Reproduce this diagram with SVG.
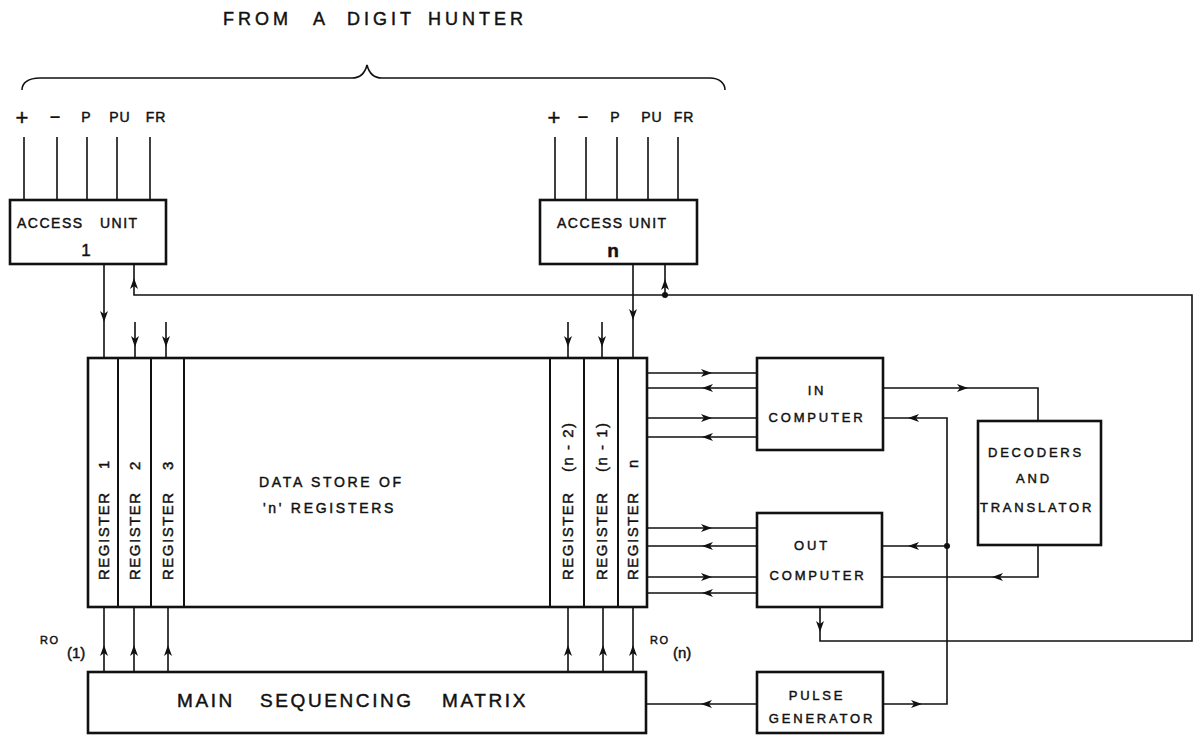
<svg xmlns="http://www.w3.org/2000/svg" xmlns:xlink="http://www.w3.org/1999/xlink" width="1199" height="735" viewBox="0 0 1199 735">
<style>
.box{fill:#fff;stroke:#111;stroke-width:2.6}
.div{fill:none;stroke:#111;stroke-width:2}
.ln{fill:none;stroke:#111;stroke-width:1.6}
.t{font-family:"Liberation Sans",Arial,sans-serif;fill:#111;stroke:#111;stroke-width:0.45}
.lbl{font-size:13px;letter-spacing:2.8px;text-anchor:middle}
.reg{font-size:15px;letter-spacing:1.5px}
.ah{fill:#111}
</style>
<defs>
<path id="ah" d="M0,0 L-11,-4 L-8,0 L-11,4 Z"/>
</defs>
<rect width="1199" height="735" fill="#fff"/>

<g id="title">
<text class="t" font-size="18" letter-spacing="4" y="25"><tspan x="223">FROM</tspan><tspan x="313">A</tspan><tspan x="347">DIGIT</tspan><tspan x="428">HUNTER</tspan></text>
<path class="ln" d="M22,90 C22,83 28,78 40,78 L352,78 C360,78 365,73 367,65 C369,73 374,78 382,78 L710,78 C719,78 725,83 725,90"/>
</g>

<g id="access-unit-1">
<g class="t" font-size="14">
<text x="22" y="125" font-size="22" text-anchor="middle">+</text>
<text x="55" y="123" font-size="18" text-anchor="middle">−</text>
<text x="86" y="122" text-anchor="middle">P</text>
<text x="120" y="122" text-anchor="middle" letter-spacing="1">PU</text>
<text x="156" y="122" text-anchor="middle" letter-spacing="1">FR</text>
</g>
<rect class="box" x="10" y="200" width="156" height="64"/>
<text class="t" font-size="14" letter-spacing="1.5" y="228"><tspan x="17">ACCESS</tspan><tspan x="100">UNIT</tspan></text>
<text class="t" font-size="17" x="86" y="256" text-anchor="middle">1</text>
</g>

<g id="access-unit-n">
<g class="t" font-size="14">
<text x="554" y="125" font-size="22" text-anchor="middle">+</text>
<text x="583" y="123" font-size="18" text-anchor="middle">−</text>
<text x="615" y="122" text-anchor="middle">P</text>
<text x="652" y="122" text-anchor="middle" letter-spacing="1">PU</text>
<text x="684" y="122" text-anchor="middle" letter-spacing="1">FR</text>
</g>
<rect class="box" x="540" y="200" width="157" height="64"/>
<text class="t" font-size="14" letter-spacing="1.5" y="228"><tspan x="557">ACCESS</tspan><tspan x="629">UNIT</tspan></text>
<text class="t" font-size="19" font-weight="bold" x="613" y="257" text-anchor="middle">n</text>
</g>

<g id="data-store">
<rect class="box" x="88" y="358" width="559" height="249"/>
<path class="div" d="M118,358 V607 M151,358 V607 M184,358 V607 M550,358 V607 M584,358 V607 M618,358 V607"/>
<text class="t" font-size="14" letter-spacing="2.7" y="487" x="259">DATA STORE OF</text>
<text class="t" font-size="14" letter-spacing="2.7" y="513" x="263">'n' REGISTERS</text>
</g>
<g id="register-1"><text class="t reg" transform="translate(108.5,580) rotate(-90)"><tspan x="0">REGISTER</tspan><tspan x="111">1</tspan></text></g>
<g id="register-2"><text class="t reg" transform="translate(140,580) rotate(-90)"><tspan x="0">REGISTER</tspan><tspan x="110">2</tspan></text></g>
<g id="register-3"><text class="t reg" transform="translate(173,580) rotate(-90)"><tspan x="0">REGISTER</tspan><tspan x="110">3</tspan></text></g>
<g id="register-n-2"><text class="t reg" transform="translate(572.5,580) rotate(-90)"><tspan x="0">REGISTER</tspan><tspan x="108">(n - 2)</tspan></text></g>
<g id="register-n-1"><text class="t reg" transform="translate(606.5,580) rotate(-90)"><tspan x="0">REGISTER</tspan><tspan x="108">(n - 1)</tspan></text></g>
<g id="register-n"><text class="t reg" transform="translate(638,580) rotate(-90)"><tspan x="0">REGISTER</tspan><tspan x="112">n</tspan></text></g>

<g id="in-computer">
<rect class="box" x="757" y="358" width="126" height="92"/>
<text class="t lbl" x="817" y="395">IN</text>
<text class="t lbl" x="817" y="422">COMPUTER</text>
</g>

<g id="out-computer">
<rect class="box" x="757" y="513" width="125" height="94"/>
<text class="t lbl" x="812" y="550">OUT</text>
<text class="t lbl" x="818" y="580">COMPUTER</text>
</g>

<g id="decoders-translator">
<rect class="box" x="978" y="421" width="123" height="124"/>
<text class="t lbl" x="1036" y="457">DECODERS</text>
<text class="t lbl" x="1034" y="483">AND</text>
<text class="t lbl" x="1037" y="512" letter-spacing="2">TRANSLATOR</text>
</g>

<g id="pulse-generator">
<rect class="box" x="757" y="672" width="126" height="61"/>
<text class="t lbl" x="817" y="700">PULSE</text>
<text class="t lbl" x="822" y="723" letter-spacing="2.7">GENERATOR</text>
</g>

<g id="main-sequencing-matrix">
<rect class="box" x="88" y="672" width="558" height="61"/>
<text class="t" font-size="19" letter-spacing="2.6" y="707"><tspan x="177">MAIN</tspan><tspan x="260">SEQUENCING</tspan><tspan x="442">MATRIX</tspan></text>
<text class="t" font-size="11" letter-spacing="1.5" x="40" y="644">RO</text>
<text class="t" font-size="15" x="67" y="658">(1)</text>
<text class="t" font-size="11" letter-spacing="1.5" x="650" y="644">RO</text>
<text class="t" font-size="15" x="673" y="658">(n)</text>
</g>

<g id="connectors">
<path class="ln" d="M24,137 V200 M57,137 V200 M87,137 V200 M117,137 V200 M150,137 V200"/>
<path class="ln" d="M555,137 V200 M586,137 V200 M617,137 V200 M648,137 V200 M678,137 V200"/>
<path class="ln" d="M104,264 V358 M135,322 V358 M166,322 V358 M568,322 V358 M602,322 V358 M633,264 V358"/>
<path class="ln" d="M820,607 V641 H1192 V295 H134 V264 M665,295 V264"/>
<path class="ln" d="M104,672 V607 M134,672 V607 M168,672 V607 M568,672 V607 M603,672 V607 M633,672 V607"/>
<path class="ln" d="M647,373 H757 M647,388 H757 M647,418 H757 M647,437 H757 M647,528 H757 M647,546 H757 M647,577 H757 M647,593 H757"/>
<path class="ln" d="M883,388 H1038 V421 M883,704 H947 V418 H883 M947,546 H882 M1038,545 V577 H882 M757,704 H646"/>
<circle class="ah" cx="665" cy="295" r="3"/>
<circle class="ah" cx="947" cy="546" r="3"/>
<g class="ah">
<use xlink:href="#ah" transform="translate(104,322) rotate(90)"/>
<use xlink:href="#ah" transform="translate(135,347) rotate(90)"/>
<use xlink:href="#ah" transform="translate(166,347) rotate(90)"/>
<use xlink:href="#ah" transform="translate(568,347) rotate(90)"/>
<use xlink:href="#ah" transform="translate(602,347) rotate(90)"/>
<use xlink:href="#ah" transform="translate(633,320) rotate(90)"/>
<use xlink:href="#ah" transform="translate(134,278) rotate(-90)"/>
<use xlink:href="#ah" transform="translate(665,279) rotate(-90)"/>
<use xlink:href="#ah" transform="translate(820,632) rotate(90)"/>
<use xlink:href="#ah" transform="translate(104,645) rotate(-90)"/>
<use xlink:href="#ah" transform="translate(134,645) rotate(-90)"/>
<use xlink:href="#ah" transform="translate(168,645) rotate(-90)"/>
<use xlink:href="#ah" transform="translate(568,645) rotate(-90)"/>
<use xlink:href="#ah" transform="translate(603,645) rotate(-90)"/>
<use xlink:href="#ah" transform="translate(633,645) rotate(-90)"/>
<use xlink:href="#ah" transform="translate(712,373)"/>
<use xlink:href="#ah" transform="translate(702,388) rotate(180)"/>
<use xlink:href="#ah" transform="translate(712,418)"/>
<use xlink:href="#ah" transform="translate(702,437) rotate(180)"/>
<use xlink:href="#ah" transform="translate(712,528)"/>
<use xlink:href="#ah" transform="translate(702,546) rotate(180)"/>
<use xlink:href="#ah" transform="translate(712,577)"/>
<use xlink:href="#ah" transform="translate(702,593) rotate(180)"/>
<use xlink:href="#ah" transform="translate(968,388)"/>
<use xlink:href="#ah" transform="translate(908,418) rotate(180)"/>
<use xlink:href="#ah" transform="translate(908,546) rotate(180)"/>
<use xlink:href="#ah" transform="translate(992,577) rotate(180)"/>
<use xlink:href="#ah" transform="translate(922,704)"/>
<use xlink:href="#ah" transform="translate(701,704) rotate(180)"/>
</g>
</g>
</svg>
